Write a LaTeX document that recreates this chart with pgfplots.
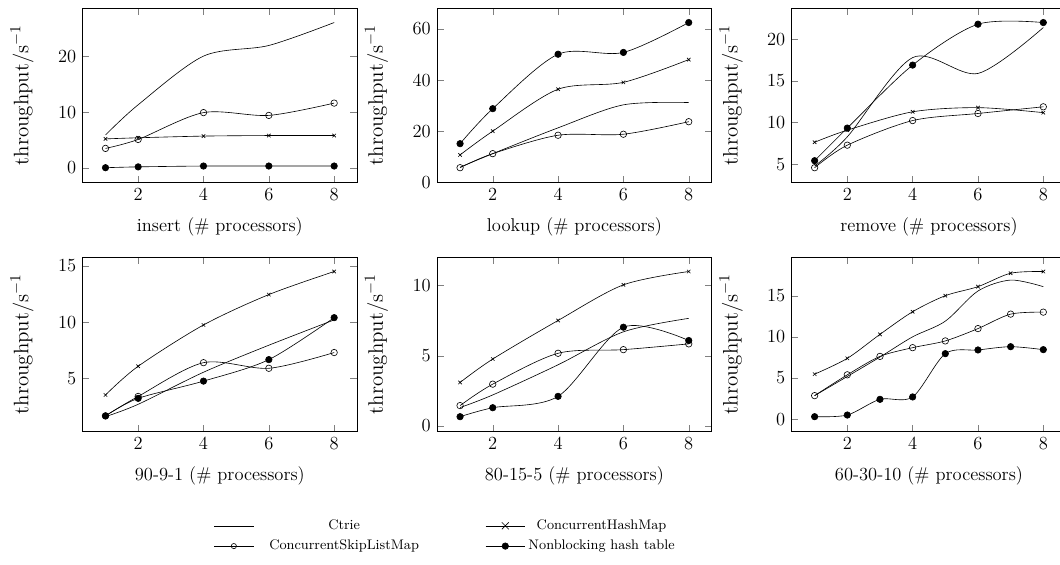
\documentclass[border=0pt,12pt]{standalone}
\usepackage{pgfplots}
\pgfplotsset{compat=1.18}
\usepgfplotslibrary{groupplots}

\pgfplotsset{
  ctrie/.style={black, smooth, no markers},
  chm/.style={black, smooth, mark=x, mark size=1.6pt, mark options={solid},
    legend image post style={mark size=3.2pt}},
  cslm/.style={black, smooth, mark=o, mark size=2.1pt, mark options={solid},
    legend image post style={mark size=1.7pt}},
  nbht/.style={black, smooth, mark=*, mark size=2.1pt, mark options={solid, fill=black}},
}

\begin{document}
\begin{tikzpicture}
\begin{groupplot}[
    group style={group size=3 by 2, horizontal sep=52pt, vertical sep=48.5pt},
    scale only axis,
    width=178pt, height=113pt,
    enlargelimits=0.1,
    xtick={2,4,6,8},
    ylabel={throughput/s$^{-1}$},
    ylabel style={font=\fontsize{13.6}{16}\selectfont, at={(axis description cs:-0.155,0.5)}, anchor=south},
    xlabel shift=3pt,
    legend image code/.code={
      \draw[mark repeat=2, mark phase=2] plot coordinates {(0cm,0cm) (0.45cm,0cm) (0.9cm,0cm)};
    },
]
% insert
\nextgroupplot[xlabel={insert (\# processors)}, ytick={0,10,20}]
\addplot[ctrie] coordinates {(1,5.9) (2,11.3) (4,20.0) (6,21.9) (8,26.0)};
\addplot[chm]   coordinates {(1,5.2) (2,5.4) (4,5.7) (6,5.8) (8,5.8)};
\addplot[cslm]  coordinates {(1,3.5) (2,5.1) (4,9.9) (6,9.4) (8,11.6)};
\addplot[nbht]  coordinates {(1,0.05) (2,0.2) (4,0.35) (6,0.35) (8,0.35)};

% lookup
\nextgroupplot[xlabel={lookup (\# processors)}, ytick={0,20,40,60}]
\addplot[ctrie] coordinates {(1,5.9) (2,11.2) (4,21.3) (6,30.3) (8,31.2)};
\addplot[chm]   coordinates {(1,10.7) (2,20.0) (4,36.4) (6,39.1) (8,48.0)};
\addplot[cslm]  coordinates {(1,5.7) (2,11.2) (4,18.4) (6,18.8) (8,23.7)};
\addplot[nbht]  coordinates {(1,15.1) (2,28.8) (4,50.1) (6,50.8) (8,62.5)};

% remove
\nextgroupplot[xlabel={remove (\# processors)}, ytick={5,10,15,20}]
\addplot[ctrie] coordinates {(1,4.8) (2,8.3) (4,17.8) (6,15.9) (8,21.4)};
\addplot[chm]   coordinates {(1,7.65) (2,9.1) (4,11.3) (6,11.8) (8,11.2)};
\addplot[cslm]  coordinates {(1,4.6) (2,7.3) (4,10.25) (6,11.1) (8,11.9)};
\addplot[nbht]  coordinates {(1,5.44) (2,9.35) (4,16.9) (6,21.8) (8,22.0)};

% 90-9-1
\nextgroupplot[xlabel={90-9-1 (\# processors)}, ytick={5,10,15},
    legend columns=2, legend cell align=center,
    legend style={draw=none, font=\fontsize{9}{11}\selectfont,
      at={(0.46,-0.47)}, anchor=north west,
      /tikz/row sep=1pt,
      /tikz/column 1/.style={column sep=8pt},
      /tikz/every even column/.append style={column sep=41pt}}]
\addplot[ctrie] coordinates {(1,1.6) (2,2.7) (4,5.55) (6,7.95) (8,10.2)};
\addplot[chm]   coordinates {(1,3.53) (2,6.08) (4,9.75) (6,12.45) (8,14.5)};
\addplot[cslm]  coordinates {(1,1.67) (2,3.4) (4,6.4) (6,5.9) (8,7.3)};
\addplot[nbht]  coordinates {(1,1.67) (2,3.23) (4,4.76) (6,6.67) (8,10.4)};
\legend{Ctrie, ConcurrentHashMap, ConcurrentSkipListMap, Nonblocking hash table}

% 80-15-5
\nextgroupplot[xlabel={80-15-5 (\# processors)}, ytick={0,5,10}]
\addplot[ctrie] coordinates {(1,1.3) (2,2.2) (4,4.35) (6,6.7) (8,7.66)};
\addplot[chm]   coordinates {(1,3.09) (2,4.76) (4,7.51) (6,10.05) (8,11.0)};
\addplot[cslm]  coordinates {(1,1.44) (2,2.97) (4,5.17) (6,5.43) (8,5.84)};
\addplot[nbht]  coordinates {(1,0.65) (2,1.29) (4,2.1) (6,7.03) (8,6.08)};

% 60-30-10
\nextgroupplot[xlabel={60-30-10 (\# processors)}, ytick={0,5,10,15}]
\addplot[ctrie] coordinates {(1,2.85) (2,5.18) (3,7.54) (4,10.0) (5,11.9) (6,15.57) (7,16.9) (8,16.1)};
\addplot[chm]   coordinates {(1,5.46) (2,7.38) (3,10.3) (4,13.05) (5,15.0) (6,16.1) (7,17.73) (8,17.94)};
\addplot[cslm]  coordinates {(1,2.85) (2,5.38) (3,7.62) (4,8.68) (5,9.5) (6,11.0) (7,12.76) (8,13.0)};
\addplot[nbht]  coordinates {(1,0.29) (2,0.49) (3,2.4) (4,2.69) (5,7.95) (6,8.4) (7,8.8) (8,8.44)};
\end{groupplot}
% the reference is cut just inside the right edge of the last panel
\pgfresetboundingbox
\path ([shift={(-53.6pt,5.2pt)}]group c1r1.north west)
  rectangle ([shift={(-4pt,-86.7pt)}]group c3r2.south east);
\end{tikzpicture}
\end{document}
